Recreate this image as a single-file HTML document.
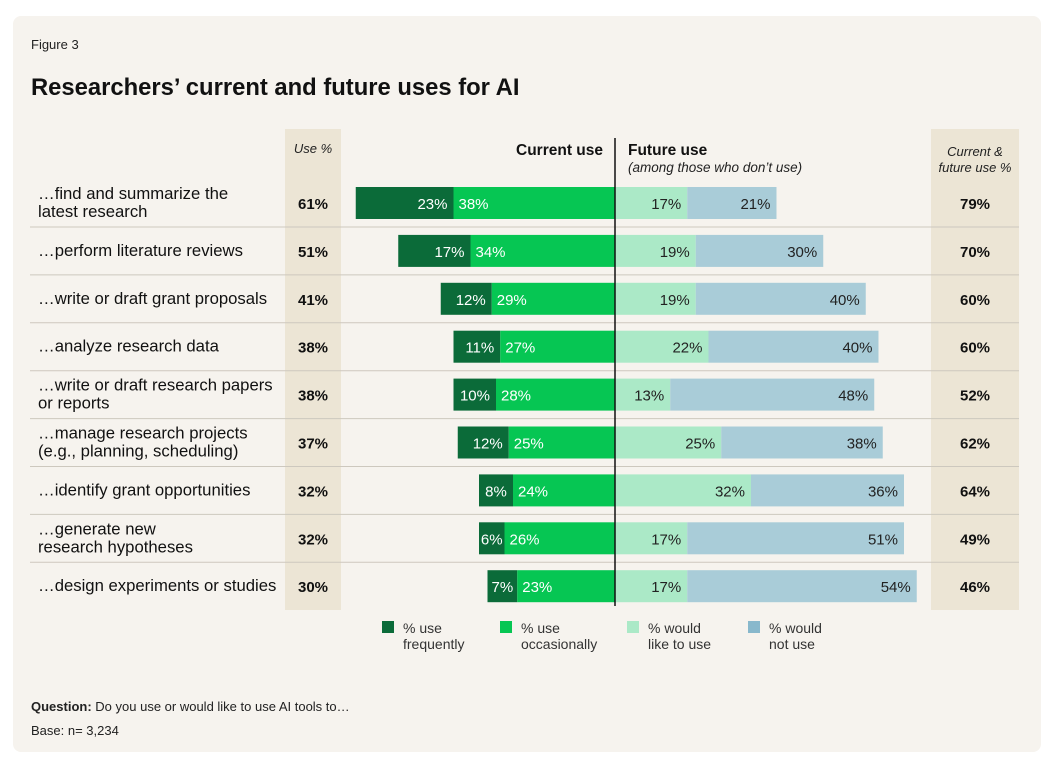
<!DOCTYPE html>
<html><head><meta charset="utf-8"><style>
body{margin:0;background:#fff;font-family:"Liberation Sans",sans-serif;}
#card{position:absolute;left:13px;top:16px;width:1028px;height:736px;background:#f6f3ee;border-radius:8px;}
</style></head><body>
<div id="card"></div>
<svg id="chart" width="1062" height="772" style="position:absolute;left:0;top:0" font-family="Liberation Sans, sans-serif"></svg>
<script>
const categories=["…find and summarize the|latest research","…perform literature reviews","…write or draft grant proposals","…analyze research data","…write or draft research papers|or reports","…manage research projects|(e.g., planning, scheduling)","…identify grant opportunities","…generate new|research hypotheses","…design experiments or studies"];
const frequent=[23,17,12,11,10,12,8,6,7];
const occasional=[38,34,29,27,28,25,24,26,23];
const wouldLike=[17,19,19,22,13,25,32,17,17];
const wouldNot=[21,30,40,40,48,38,36,51,54];
const usePct=[61,51,41,38,38,37,32,32,30];
const totalPct=[79,70,60,60,52,62,64,49,46];
const svg=document.getElementById('chart');const NS='http://www.w3.org/2000/svg';
function mk(t,a,txt){const e=document.createElementNS(NS,t);for(const k in a)e.setAttribute(k,a[k]);if(txt!=null)e.textContent=txt;svg.appendChild(e);return e;}
const cx=615,k=4.25;const x=v=>cx+v*k;
const rowY=i=>203+i*47.9;
let e;
e=mk('rect',{x:285,y:129,width:56,height:481,fill:'#ece5d5'});
e=mk('rect',{x:931,y:129,width:88,height:481,fill:'#ece5d5'});
e=mk('text',{x:31,y:49,'font-size':13,fill:'#222'},'Figure 3');
e=mk('text',{x:31,y:95,'font-size':23.8,'font-weight':'bold',fill:'#111'},'Researchers’ current and future uses for AI');
e=mk('text',{x:313,y:153,'font-size':13,'font-style':'italic','text-anchor':'middle',fill:'#222'},'Use %');
e=mk('text',{x:603,y:155,'font-size':15.5,'font-weight':'bold','text-anchor':'end',fill:'#111'},'Current use');
e=mk('text',{x:628,y:155,'font-size':15.5,'font-weight':'bold',fill:'#111'},'Future use');
e=mk('text',{x:628,y:172,'font-size':13.5,'font-style':'italic',fill:'#222'},'(among those who don’t use)');
e=mk('text',{x:975,y:156,'font-size':13,'font-style':'italic','text-anchor':'middle',fill:'#222'},'Current &');
mk('text',{x:975,y:172,'font-size':13,'font-style':'italic','text-anchor':'middle',fill:'#222'},'future use %');
categories.forEach((c,i)=>{const cy=rowY(i);
 if(i<categories.length-1){e=mk('line',{x1:30,x2:1019,y1:cy+24,y2:cy+24,stroke:'#cdc8be','stroke-width':1});}
 const lines=c.split('|');
 lines.forEach((l,j)=>{e=mk('text',{x:38,y:cy+5+(lines.length>1?(j-0.5)*18:0),'font-size':16.7,fill:'#111'},l);});
 e=mk('text',{x:313,y:cy+6,'font-size':15,'font-weight':'bold','text-anchor':'middle',fill:'#111'},usePct[i]+'%');
 e=mk('text',{x:975,y:cy+6,'font-size':15,'font-weight':'bold','text-anchor':'middle',fill:'#111'},totalPct[i]+'%');
 const f=frequent[i],o=occasional[i],l=wouldLike[i],n=wouldNot[i];const y=cy-16,h=32;
 const segs=[[x(-(f+o)),x(-o),'#0b6b39','#fff',f,'end','bar-frequent'],[x(-o),x(0),'#06c653','#fff',o,'start','bar-occasional'],[x(0),x(l),'#abe9c7','#222',l,'end','bar-would-like'],[x(l),x(l+n),'#a9ccd8','#222',n,'end','bar-would-not']];
 segs.forEach(s=>{e=mk('rect',{x:s[0],y:y,width:s[1]-s[0],height:h,fill:s[2]});
  const w=s[1]-s[0];const small=w<36;
  e=mk('text',{x:small?(s[0]+s[1])/2:(s[5]=='end'?s[1]-6:s[0]+5),y:cy+6,'font-size':15,'text-anchor':small?'middle':s[5],fill:s[3]},s[4]+'%');});
});
e=mk('line',{x1:cx,x2:cx,y1:138,y2:606,stroke:'#111','stroke-width':1.5});
const leg=[[382,'#0b6b39','% use','frequently'],[500,'#06c653','% use','occasionally'],[627,'#abe9c7','% would','like to use'],[748,'#88b8cc','% would','not use']];
leg.forEach(g=>{e=mk('rect',{x:g[0],y:621,width:12,height:12,fill:g[1]});
 e=mk('text',{x:g[0]+21,y:633,'font-size':14,fill:'#333'},g[2]);
 mk('text',{x:g[0]+21,y:649,'font-size':14,fill:'#333'},g[3]);});
e=mk('text',{x:31,y:711,'font-size':13,fill:'#222'});
e.innerHTML='<tspan font-weight="bold">Question:</tspan> Do you use or would like to use AI tools to…';
e=mk('text',{x:31,y:735,'font-size':13,fill:'#222'},'Base: n= 3,234');
</script>
</body></html>
